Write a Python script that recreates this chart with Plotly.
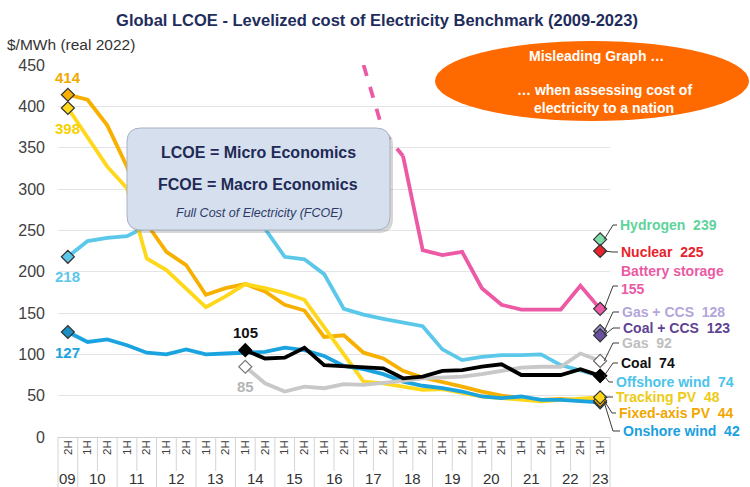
import plotly.graph_objects as go

# ---------------- data ----------------
halves = ["2H"] + ["1H", "2H"] * 13 + ["1H"]
year_labels = ["09", "10", "11", "12", "13", "14", "15", "16", "17", "18", "19", "20", "21", "22", "23"]
idx = list(range(len(halves)))

fixed_pv = [414, 408, 377, 327, 258, 224, 208, 172, 180, 185, 176, 160, 153, 121, 123, 102,
            95, 80, 72, 67, 61, 55, 50, 47, 45, 46, 44, 44]
tracking_pv = [398, 363, 327, 301, 216, 202, 180, 157, 170, 185, 180, 174, 166, 133, 100, 67,
               65, 61, 57, 58, 53, 49, 47, 45, 43, 45, 47, 48]
onshore_wind = [127, 115, 118, 111, 102, 100, 106, 100, 101, 102, 103, 108, 105, 98, 86, 82,
                76, 67, 62, 59, 55, 49, 47, 49, 45, 45, 43, 42]
offshore_wind = [218, 237, 241, 243, 255, 262, 265, 268, 264, 262, 252, 218, 215, 197, 155, 148,
                 143, 138, 134, 106, 93, 97, 99, 99, 100, 87, 80, 74]
coal = [None] * 9 + [105, 95, 96, 108, 87, 86, 85, 83, 71, 73, 80, 81, 85, 88, 75, 75, 75, 82, 74]
gas = [None] * 9 + [85, 65, 55, 61, 59, 64, 63, 65, 68, 71, 72, 73, 76, 80, 84, 85, 85, 101, 92]
battery_early = [None] * 15 + [450, 369, 340] + [None] * 10
battery = [None] * 17 + [340, 226, 220, 224, 180, 160, 154, 154, 154, 183, 155]
hydrogen_last = 239
nuclear_last = 225
gas_ccs_last = 128
coal_ccs_last = 123

# right-hand labels: (text, value, colour)
end_labels = [
    ("Hydrogen", 239, "#5ED39C"),
    ("Nuclear", 225, "#E8232B"),
    ("Battery storage", 155, "#EA5AA3"),
    ("Gas + CCS", 128, "#B3A6DA"),
    ("Coal + CCS", 123, "#5E4393"),
    ("Gas", 92, "#BEBEBE"),
    ("Coal", 74, "#111111"),
    ("Offshore wind", 74, "#4CC3EA"),
    ("Tracking PV", 48, "#EDCB16"),
    ("Fixed-axis PV", 44, "#F2A700"),
    ("Onshore wind", 42, "#19A0DE"),
]

# ---------------- geometry helpers ----------------
W, H = 750, 487
L, R, T, B = 58, 140, 65, 50
PW, PH = W - L - R, H - T - B
YMAX = 450
N = len(halves)


def pxx(p):
    return (p - L) / PW


def pxy(p):
    return (H - B - p) / PH


def cat_paper(i):
    return (i + 0.5) / N


FONT = "Arial, 'Liberation Sans', sans-serif"

C_FIXED = "#F7B000"
C_TRACK = "#FFD81C"
C_ON = "#1BA3E0"
C_OFF = "#5BC8EA"
C_GAS = "#C8C8C8"
C_COAL = "#000000"
C_BAT = "#EC5AA6"

fig = go.Figure()


def line(y, color, width=3.8, dash="solid"):
    fig.add_trace(go.Scatter(x=idx, y=y, mode="lines", line=dict(color=color, width=width, dash=dash),
                             hoverinfo="skip", showlegend=False, connectgaps=False))


line(offshore_wind, C_OFF)
line(fixed_pv, C_FIXED)
line(tracking_pv, C_TRACK)
line(onshore_wind, C_ON)
line(gas, C_GAS)
line(coal, C_COAL)
line(battery_early, C_BAT, dash="dash")
line(battery, C_BAT)


def marker(i, v, fill, border="#333333"):
    fig.add_trace(go.Scatter(x=[i], y=[v], mode="markers",
                             marker=dict(symbol="diamond", size=10, color=fill,
                                         line=dict(color=border, width=1.2)),
                             hoverinfo="skip", showlegend=False, cliponaxis=False))


last = N - 1
# start markers
marker(0, fixed_pv[0], C_FIXED)
marker(0, tracking_pv[0], C_TRACK)
marker(0, offshore_wind[0], C_OFF)
marker(0, onshore_wind[0], "#1B8FC4")
marker(9, coal[9], "#000000", "#000000")
marker(9, gas[9], "#FFFFFF", "#777777")
# end markers
marker(last, hydrogen_last, "#7FDDAA")
marker(last, nuclear_last, "#E8232B")
marker(last, battery[last], C_BAT)
marker(last, gas_ccs_last, "#9C8CCB")
marker(last, coal_ccs_last, "#6A4FA3")
marker(last, gas[last], "#FFFFFF", "#666666")
marker(last, offshore_wind[last], C_OFF)
marker(last, coal[last], "#000000", "#000000")
marker(last, onshore_wind[last], C_ON)
marker(last, fixed_pv[last], C_FIXED)
marker(last, tracking_pv[last], C_TRACK)

annotations = []
shapes = []

# start value labels
start_labels = [
    (0, fixed_pv[0], "#F2A900", 17),
    (0, tracking_pv[0], "#F7D000", -21),
    (0, offshore_wind[0], "#5BC8EA", -20),
    (0, onshore_wind[0], "#1BA3E0", -20),
    (9, coal[9], "#111111", 18),
    (9, gas[9], "#B5B5B5", -20),
]
for i, v, c, dy in start_labels:
    annotations.append(dict(x=i, y=v, xref="x", yref="y", text=f"<b>{v}</b>", showarrow=False,
                            xanchor="center", yanchor="middle",
                            yshift=dy, font=dict(family=FONT, size=15, color=c)))

# right-hand labels with leader lines
label_px_y = [225, 252, 280, 312, 328, 343, 363, 382, 397, 413, 431]
label_px_x = [618, 619, 619, 620, 621, 620, 619, 614, 614, 617, 621]
for (name, v, c), ly, lx in zip(end_labels, label_px_y, label_px_x):
    nb = "\u00a0\u00a0"
    if name == "Battery storage":
        txt = f"<b>{name}<br>{v}</b>"
    else:
        txt = f"<b>{name}{nb}{v}</b>"
    annotations.append(dict(x=pxx(lx), y=pxy(ly), xref="paper", yref="paper", text=txt,
                            showarrow=False, xanchor="left", yanchor="middle", align="left",
                            font=dict(family=FONT, size=14, color=c)))
    my = v / YMAX
    lyp = pxy(ly if name != "Battery storage" else 286)
    ex = pxx(min(lx - 5, 613))
    shapes.append(dict(type="path", xref="paper", yref="paper", layer="above",
                       path=f"M {cat_paper(last) + 4 / PW},{my} L {ex},{lyp} L {pxx(lx - 1)},{lyp}",
                       line=dict(color="#3A3A3A", width=1)))

# year labels below the half-year ticks
year_pos = [0] + [1.5 + 2 * k for k in range(13)] + [last]
for yl, xp in zip(year_labels, year_pos):
    annotations.append(dict(x=xp, y=pxy(479), xref="x", yref="paper", text=yl, showarrow=False,
                            xanchor="center", yanchor="middle",
                            font=dict(family=FONT, size=15, color="#333333")))

# category box lines
year_bounds = {0, 1, N} | {1 + 2 * k for k in range(14)}
for k in range(N + 1):
    bottom = 487 if k in year_bounds else 471
    shapes.append(dict(type="line", xref="paper", yref="paper", x0=k / N, x1=k / N,
                       y0=0, y1=pxy(bottom), line=dict(color="#D4D4D4", width=1), layer="below"))


# rounded info box (with soft shadow)
def rounded(x0, y0, x1, y1, r, dx=0, dy=0):
    x0, x1, y0, y1 = x0 + dx, x1 + dx, y0 + dy, y1 + dy
    pts = [
        ("M", (x0 + r, y0)), ("L", (x1 - r, y0)), ("Q", (x1, y0), (x1, y0 + r)),
        ("L", (x1, y1 - r)), ("Q", (x1, y1), (x1 - r, y1)), ("L", (x0 + r, y1)),
        ("Q", (x0, y1), (x0, y1 - r)), ("L", (x0, y0 + r)), ("Q", (x0, y0), (x0 + r, y0)),
    ]
    out = []
    for p in pts:
        cmd = p[0]
        coords = " ".join(f"{pxx(a):.5f},{pxy(b):.5f}" for a, b in p[1:])
        out.append(f"{cmd} {coords}")
    return " ".join(out) + " Z"


shapes.append(dict(type="path", xref="paper", yref="paper", layer="above",
                   path=rounded(127, 128, 390, 230, 14, 3, 3),
                   fillcolor="rgba(90,90,90,0.25)", line=dict(width=0)))
shapes.append(dict(type="path", xref="paper", yref="paper", layer="above",
                   path=rounded(127, 128, 390, 230, 14),
                   fillcolor="#D5DFEE", line=dict(color="#A8B2C4", width=1)))


def free_text(px, py, text, size, color):
    return dict(x=pxx(px), y=pxy(py), xref="paper", yref="paper", showarrow=False,
                xanchor="center", yanchor="middle", text=text,
                font=dict(family=FONT, size=size, color=color))


annotations += [
    free_text(258, 152, "<b>LCOE = Micro Economics</b>", 16, "#1F2A55"),
    free_text(258, 184, "<b>FCOE = Macro Economics</b>", 16, "#1F2A55"),
    free_text(259, 213, "<i>Full Cost of Electricity (FCOE)</i>", 12.5, "#2E3A66"),
]

# orange ellipse
shapes.append(dict(type="circle", xref="paper", yref="paper", layer="above",
                   x0=pxx(435), x1=pxx(749), y0=pxy(121), y1=pxy(41),
                   fillcolor="#FF6A00", line=dict(width=0)))
annotations += [
    free_text(596, 56, "<b>Misleading Graph …</b>", 14, "white"),
    free_text(604, 90, "<b>… when assessing cost of</b>", 14, "white"),
    free_text(604, 108, "<b>electricity to a nation</b>", 14, "white"),
]

# unit label
annotations.append(dict(x=pxx(5), y=pxy(44), xref="paper", yref="paper", showarrow=False,
                        xanchor="left", yanchor="middle", text="$/MWh (real 2022)",
                        font=dict(family=FONT, size=15.5, color="#333333")))

fig.update_layout(
    width=W, height=H,
    margin=dict(l=L, r=R, t=T, b=B),
    paper_bgcolor="white", plot_bgcolor="white",
    showlegend=False,
    title=dict(text="<b>Global LCOE - Levelized cost of Electricity Benchmark (2009-2023)</b>",
               x=377 / W, xref="container", xanchor="center",
               y=1 - 20 / H, yref="container", yanchor="middle",
               font=dict(family=FONT, size=16.5, color="#1F2D5C")),
    xaxis=dict(range=[-0.5, N - 0.5], tickvals=idx, ticktext=halves, tickangle=-90,
               tickfont=dict(family=FONT, size=11.5, color="#404040"), showgrid=False,
               zeroline=False, showline=False, ticks="", fixedrange=True),
    yaxis=dict(range=[0, YMAX], tickvals=list(range(0, 451, 50)),
               tickfont=dict(family=FONT, size=16, color="#404040"),
               showgrid=True, gridcolor="#E4E4E4", gridwidth=1,
               zeroline=True, zerolinecolor="#D0D0D0", zerolinewidth=1,
               showline=False, ticks="", ticklabelstandoff=12, fixedrange=True),
    annotations=annotations,
    shapes=shapes,
)

fig.write_html("out.html", config={"displayModeBar": False},
               post_script="document.body.style.margin='0';")
